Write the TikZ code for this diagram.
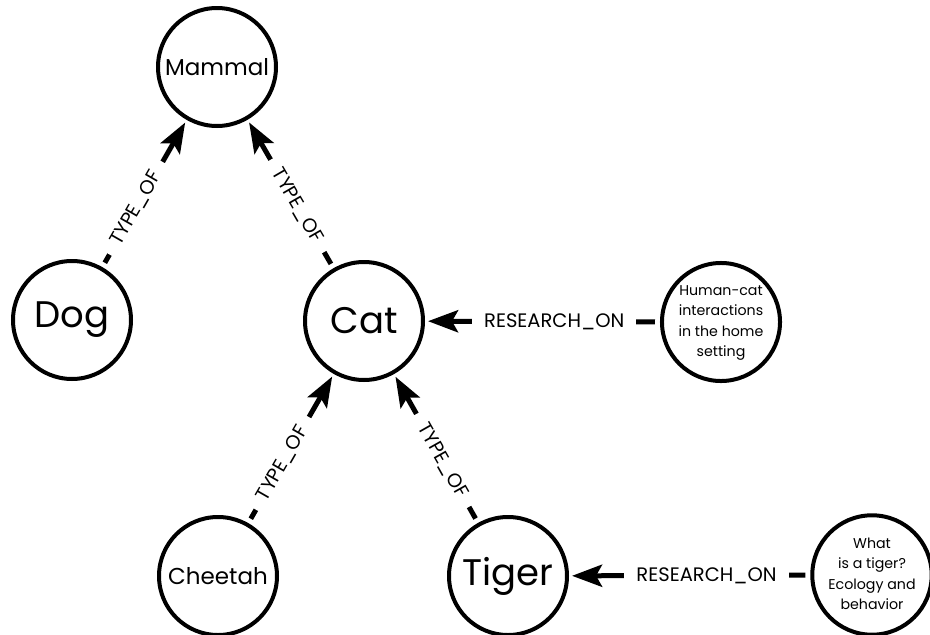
\documentclass[tikz,border=0pt]{standalone}
\usepackage{fontspec}
\setmainfont{Poppins}
\usetikzlibrary{arrows.meta}
% several centred lines, lowered a little inside their circle
\newcommand{\loweredlines}[1]{\raisebox{-3pt}{\begin{tabular}{@{}c@{}}#1\end{tabular}}}
\begin{document}
\begin{tikzpicture}[x=1pt,y=-1pt,
  bignode/.style={circle,draw,line width=4pt,minimum size=118pt,inner sep=0pt,align=center},
  bigtext/.style={bignode,font=\fontsize{37}{42}\selectfont},
  midtext/.style={bignode,font=\fontsize{23}{27}\selectfont},
  smallnode/.style={circle,draw,line width=4pt,minimum size=108pt,inner sep=0pt,
    font=\fontsize{14.2}{20.5}\selectfont},
  rel/.style={line width=5pt,-{Stealth[length=30pt,width=22pt,inset=6pt]},
    shorten >=3pt,shorten <=5pt},
  rellabel/.style={fill=white,inner xsep=12pt,inner ysep=1pt,
    font=\fontsize{19.5}{22}\selectfont}]
  \useasboundingbox (0,0) rectangle (930,635);

  % entities
  \node[midtext] (mammal) at (217,67) {Mammal};
  \node[bigtext] (dog) at (72,320) {Dog};
  \node[bigtext] (cat) at (364,321) {Cat};
  \node[midtext] (cheetah) at (218,576) {Cheetah};
  \node[bigtext] (tiger) at (508,576) {Tiger};

  % research items
  \node[smallnode] (hc) at (721,322)
    {\loweredlines{Human-cat\\interactions\\in the home\\setting}};
  \node[smallnode] (wt) at (872,575)
    {\loweredlines{What\\is a tiger?\\Ecology and\\behavior}};

  % relations
  \draw[rel] (dog) -- node[rellabel,sloped,pos=0.4] {TYPE\_OF} (mammal);
  \draw[rel] (cat) -- node[rellabel,sloped,pos=0.42] {TYPE\_OF} (mammal);
  \draw[rel] (cheetah) -- node[rellabel,sloped,pos=0.4] {TYPE\_OF} (cat);
  \draw[rel] (tiger) -- node[rellabel,sloped,pos=0.42] {TYPE\_OF} (cat);
  \draw[rel] (hc) -- node[rellabel,pos=0.45] {RESEARCH\_ON} (cat);
  \draw[rel] (wt) -- node[rellabel,pos=0.43] {RESEARCH\_ON} (tiger);
\end{tikzpicture}
\end{document}
